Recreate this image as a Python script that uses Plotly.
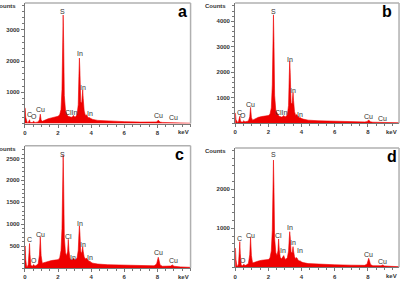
import plotly.graph_objects as go

# Energy grid (keV) shared by all four spectra
E = [0.00, 0.02, 0.05, 0.10, 0.15, 0.20, 0.25, 0.28, 0.31, 0.36, 0.45, 0.50, 0.53, 0.57, 0.65,
     0.80, 0.88, 0.93, 0.98, 1.05, 1.20, 1.40, 1.60, 1.80, 2.00, 2.10, 2.18, 2.24, 2.28, 2.31,
     2.34, 2.38, 2.45, 2.52, 2.58, 2.62, 2.66, 2.72, 2.80, 2.88, 2.93, 2.98, 3.05, 3.15, 3.22,
     3.26, 3.29, 3.32, 3.37, 3.43, 3.47, 3.49, 3.52, 3.58, 3.65, 3.70, 3.74, 3.80, 3.88, 3.92,
     3.97, 4.10, 4.40, 5.00, 6.00, 7.00, 7.80, 7.95, 8.02, 8.05, 8.09, 8.16, 8.30, 8.80, 8.90,
     9.00, 9.40, 10.0]

counts_a = [480, 490, 200, 40, 20, 30, 70, 120, 60, 30, 35, 60, 75, 40, 35,
            50, 120, 300, 110, 70, 110, 150, 180, 200, 230, 280, 450, 1100, 2800, 3480,
            2600, 900, 420, 300, 240, 230, 220, 200, 200, 220, 260, 220, 210, 280, 600,
            1500, 2100, 1700, 700, 650, 1000, 1080, 800, 400, 260, 280, 260, 200, 180, 190,
            160, 130, 100, 80, 60, 45, 40, 50, 90, 110, 80, 45, 35, 30, 40,
            28, 20, 10]

counts_b = [380, 390, 150, 50, 30, 60, 150, 270, 120, 50, 50, 80, 100, 60, 60,
            90, 250, 620, 220, 120, 180, 230, 260, 280, 300, 350, 600, 1500, 3500, 4250,
            3200, 1100, 500, 380, 300, 290, 270, 250, 240, 260, 300, 260, 250, 330, 700,
            1800, 2440, 2000, 800, 750, 1150, 1200, 900, 450, 300, 340, 300, 240, 210, 220,
            190, 160, 120, 95, 70, 55, 50, 60, 110, 130, 95, 55, 40, 35, 45,
            32, 25, 15]

counts_c = [480, 500, 200, 40, 30, 80, 350, 560, 300, 60, 40, 70, 80, 50, 50,
            90, 300, 715, 280, 110, 130, 150, 170, 180, 190, 230, 400, 900, 2100, 2580,
            1900, 700, 350, 280, 380, 655, 400, 220, 180, 190, 220, 190, 180, 230, 400,
            750, 960, 800, 380, 330, 460, 487, 380, 250, 200, 230, 210, 170, 150, 160,
            130, 110, 90, 75, 60, 50, 50, 90, 200, 245, 190, 70, 40, 45, 70,
            40, 25, 15]

counts_d = [470, 487, 200, 40, 30, 90, 400, 657, 350, 60, 40, 70, 80, 50, 50,
            100, 320, 770, 300, 110, 140, 160, 180, 190, 200, 240, 420, 950, 2250, 2750,
            2050, 750, 380, 300, 420, 726, 450, 250, 220, 260, 300, 240, 200, 250, 420,
            720, 913, 780, 400, 360, 500, 530, 420, 270, 220, 250, 230, 180, 160, 170,
            140, 120, 95, 80, 65, 55, 50, 80, 190, 230, 180, 70, 40, 40, 60,
            35, 25, 15]

# Peak labels: text, energy (keV), counts
lbl_a_text = ["S", "In", "In", "In", "ClIn", "C", "O", "Cu", "Cu", "Cu"]
lbl_a_x = [2.30, 3.32, 3.52, 3.92, 2.82, 0.30, 0.56, 0.94, 8.07, 8.94]
lbl_a_y = [3600, 2230, 1150, 330, 350, 275, 220, 435, 245, 180]

lbl_b_text = ["S", "In", "In", "In", "ClIn", "C", "O", "Cu", "Cu", "Cu"]
lbl_b_x = [2.29, 3.30, 3.50, 3.90, 2.80, 0.28, 0.50, 0.94, 8.04, 8.90]
lbl_b_y = [4380, 2480, 1300, 350, 410, 430, 300, 740, 280, 190]

lbl_c_text = ["S", "Cl", "In", "In", "In", "In", "C", "O", "Cu", "Cu", "Cu"]
lbl_c_x = [2.30, 2.64, 3.30, 3.50, 3.92, 2.92, 0.30, 0.54, 0.94, 8.08, 8.94]
lbl_c_y = [2600, 730, 1005, 532, 235, 235, 640, 167, 776, 350, 167]

lbl_d_text = ["S", "Cl", "In", "In", "In", "In", "C", "O", "Cu", "Cu", "Cu"]
lbl_d_x = [2.30, 2.64, 3.30, 3.50, 3.90, 2.90, 0.28, 0.50, 0.94, 8.04, 8.90]
lbl_d_y = [2905, 828, 1033, 640, 427, 427, 743, 170, 828, 333, 143]

y_ticks_a = [1000, 2000, 3000]
y_ticks_b = [1000, 2000, 3000, 4000]
y_ticks_c = [500, 1000, 1500, 2000, 2500]
y_ticks_d = [1000, 2000]
x_ticks = [0, 2, 4, 6, 8]
panel_letters = ["a", "b", "c", "d"]

W, H = 405, 283
RED = "#ee0000"
AXC = "#777777"

panels = [
    dict(counts=counts_a, lt=lbl_a_text, lx=lbl_a_x, ly=lbl_a_y, yt=y_ticks_a, ymax=3865, xmax=10.0,
         dx=(23, 189.5), dy=(123.5, 3), letter=(181, 11), minor=200),
    dict(counts=counts_b, lt=lbl_b_text, lx=lbl_b_x, ly=lbl_b_y, yt=y_ticks_b, ymax=4714, xmax=9.88,
         dx=(234.3, 399), dy=(123.2, 3), letter=(387, 11), minor=200),
    dict(counts=counts_c, lt=lbl_c_text, lx=lbl_c_x, ly=lbl_c_y, yt=y_ticks_c, ymax=2792, xmax=10.0,
         dx=(23, 189.5), dy=(268, 145.7), letter=(178, 154), minor=100),
    dict(counts=counts_d, lt=lbl_d_text, lx=lbl_d_x, ly=lbl_d_y, yt=y_ticks_d, ymax=3059, xmax=9.88,
         dx=(234.3, 399), dy=(267.3, 148), letter=(392, 156), minor=200),
]

fig = go.Figure()
annotations = []
shapes = []
tickfont = dict(family="Liberation Sans", size=6, color="#333333", weight="bold")

for i, p in enumerate(panels):
    k = "" if i == 0 else str(i + 1)
    xa, ya = "x" + k, "y" + k
    fig.add_trace(go.Scatter(x=E, y=p["counts"], mode="lines", fill="tozeroy",
                             line=dict(color=RED, width=0.6), fillcolor=RED,
                             xaxis=xa, yaxis=ya, showlegend=False, hoverinfo="skip"))
    x0, x1 = p["dx"][0] / W, p["dx"][1] / W
    y0, y1 = 1 - p["dy"][0] / H, 1 - p["dy"][1] / H
    common = dict(showgrid=False, zeroline=False, showline=True, linecolor=AXC, linewidth=1,
                  ticks="outside", ticklen=3, tickcolor=AXC, tickfont=tickfont)
    fig.update_layout(**{
        "xaxis" + k: dict(domain=[x0, x1], range=[0, p["xmax"]], tickvals=x_ticks,
                          anchor=ya, minor=dict(dtick=0.5, ticklen=2, tickcolor=AXC, ticks="outside"),
                          **common),
        "yaxis" + k: dict(domain=[y0, y1], range=[0, p["ymax"]], tickvals=p["yt"],
                          anchor=xa, minor=dict(dtick=p["minor"], ticklen=2, tickcolor=AXC, ticks="outside"),
                          **common),
    })
    # top and right frame lines
    shapes.append(dict(type="line", xref=xa + " domain", yref=ya + " domain", x0=0, x1=1, y0=1, y1=1,
                       line=dict(color="#b0b0b0", width=1.5)))
    shapes.append(dict(type="line", xref=xa + " domain", yref=ya + " domain", x0=1, x1=1, y0=0, y1=1,
                       line=dict(color="#b0b0b0", width=1.5)))
    for t, lx, ly in zip(p["lt"], p["lx"], p["ly"]):
        annotations.append(dict(x=lx, y=ly, xref=xa, yref=ya, text=t, showarrow=False,
                                font=dict(family="Liberation Sans", size=7, color="#303030"),
                                xanchor="center", yanchor="middle"))
    annotations.append(dict(x=x0 - 7 / W, y=y1 - 3 / H, xref="paper", yref="paper", text="Counts",
                            showarrow=False, font=tickfont, xanchor="right", yanchor="middle"))
    annotations.append(dict(x=x1, y=y0 - 8.5 / H, xref="paper", yref="paper", text="keV",
                            showarrow=False, font=tickfont, xanchor="right", yanchor="middle"))
    lx_, ly_ = p["letter"]
    annotations.append(dict(x=lx_ / W, y=1 - ly_ / H, xref="paper", yref="paper",
                            text=panel_letters[i], showarrow=False,
                            font=dict(family="Liberation Sans", size=16, color="#000000", weight="bold"),
                            xanchor="center", yanchor="middle"))

fig.update_layout(width=W, height=H, margin=dict(l=0, r=0, t=0, b=0),
                  paper_bgcolor="white", plot_bgcolor="white",
                  annotations=annotations, shapes=shapes)

fig.write_html("out.html")
